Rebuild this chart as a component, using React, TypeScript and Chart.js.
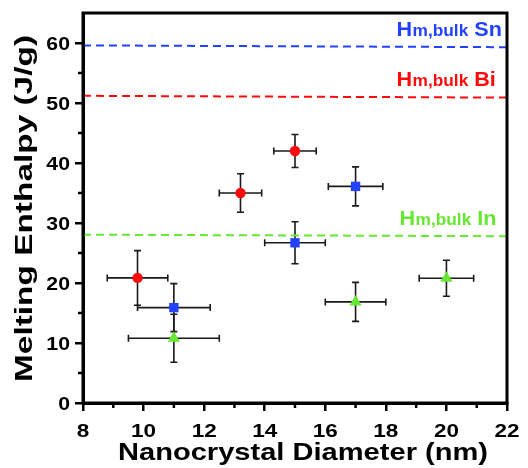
import React, { useEffect, useRef } from 'react';
import { Chart, registerables } from 'chart.js';

Chart.register(...registerables);

// ---- Data ----
const xTickValues = [8, 10, 12, 14, 16, 18, 20, 22];
const yTickValues = [0, 10, 20, 30, 40, 50, 60];
const xMinorTicks = [9, 11, 13, 15, 17, 19, 21];
const yMinorTicks = [5, 15, 25, 35, 45, 55];

const biX = [9.8, 13.2, 15.0];
const biY = [20.85, 35.0, 42.0];
const biXErr = [1.0, 0.7, 0.7];
const biYErr = [4.55, 3.2, 2.75];

const snX = [11.0, 15.0, 17.0];
const snY = [15.9, 26.7, 36.1];
const snXErr = [1.2, 1.0, 0.9];
const snYErr = [4.0, 3.5, 3.25];

const inX = [11.0, 17.0, 20.0];
const inY = [10.8, 16.85, 20.8];
const inXErr = [1.5, 1.0, 0.9];
const inYErr = [4.0, 3.25, 3.0];

const bulkX = [8, 22];
const bulkSn = [59.6, 59.3];
const bulkBi = [51.2, 50.9];
const bulkIn = [28.05, 27.8];

const labelNames = ['Sn', 'Bi', 'In'];
const labelX = [18.35, 18.35, 18.45];
const labelY = [61.2, 52.9, 29.7];

const xTitle = 'Nanocrystal Diameter (nm)';
const yTitle = 'Melting Enthalpy (J/g)';

const BLUE = '#2342ff';
const RED = '#ff0a0a';
const GREEN = '#66e832';
const FONT = '"Liberation Sans", Arial, sans-serif';

const errorSeries = [
  { x: biX, y: biY, xe: biXErr, ye: biYErr },
  { x: snX, y: snY, xe: snXErr, ye: snYErr },
  { x: inX, y: inY, xe: inXErr, ye: inYErr },
];

const errorBarPlugin = {
  id: 'errorBars',
  beforeDatasetsDraw(chart: any) {
    const { ctx, scales } = chart;
    const xs = scales.x;
    const ys = scales.y;
    ctx.save();
    ctx.strokeStyle = '#1a1a1a';
    ctx.lineWidth = 1.6;
    const cap = 3.5;
    errorSeries.forEach((s) => {
      s.x.forEach((xv, i) => {
        const px = xs.getPixelForValue(xv);
        const py = ys.getPixelForValue(s.y[i]);
        const x1 = xs.getPixelForValue(xv - s.xe[i]);
        const x2 = xs.getPixelForValue(xv + s.xe[i]);
        const y1 = ys.getPixelForValue(s.y[i] + s.ye[i]);
        const y2 = ys.getPixelForValue(s.y[i] - s.ye[i]);
        ctx.beginPath();
        ctx.moveTo(x1, py); ctx.lineTo(x2, py);
        ctx.moveTo(x1, py - cap); ctx.lineTo(x1, py + cap);
        ctx.moveTo(x2, py - cap); ctx.lineTo(x2, py + cap);
        ctx.moveTo(px, y1); ctx.lineTo(px, y2);
        ctx.moveTo(px - cap, y1); ctx.lineTo(px + cap, y1);
        ctx.moveTo(px - cap, y2); ctx.lineTo(px + cap, y2);
        ctx.stroke();
      });
    });
    ctx.restore();
  },
};

// stretched text helper (reference text is wider than plain Arial)
function stretchedText(ctx: any, text: string, x: number, y: number, sx: number, align: string) {
  ctx.save();
  ctx.translate(x, y);
  ctx.scale(sx, 1);
  ctx.textAlign = align;
  ctx.fillText(text, 0, 0);
  ctx.restore();
}

const framePlugin = {
  id: 'frame',
  afterDraw(chart: any) {
    const { ctx, chartArea, scales } = chart;
    const xs = scales.x;
    const ys = scales.y;
    ctx.save();
    ctx.strokeStyle = '#000';
    ctx.lineWidth = 3;
    ctx.strokeRect(chartArea.left, chartArea.top, chartArea.right - chartArea.left, chartArea.bottom - chartArea.top);
    ctx.lineWidth = 2.5;
    ctx.beginPath();
    xMinorTicks.forEach((v) => {
      const p = xs.getPixelForValue(v);
      ctx.moveTo(p, chartArea.bottom);
      ctx.lineTo(p, chartArea.bottom + 5);
    });
    yMinorTicks.forEach((v) => {
      const p = ys.getPixelForValue(v);
      ctx.moveTo(chartArea.left, p);
      ctx.lineTo(chartArea.left - 5, p);
    });
    ctx.stroke();

    // tick labels, from the scales' own ticks
    ctx.fillStyle = '#000';
    ctx.textBaseline = 'alphabetic';
    ctx.font = `bold 18px ${FONT}`;
    xs.ticks.forEach((t: any, i: number) => {
      const p = xs.getPixelForTick(i);
      stretchedText(ctx, String(t.value), p, chartArea.bottom + 34, 1.25, 'center');
    });
    ys.ticks.forEach((t: any, i: number) => {
      const p = ys.getPixelForTick(i);
      stretchedText(ctx, String(t.value), chartArea.left - 13, p + 6.6, 1.18, 'right');
    });

    // axis titles
    ctx.font = `bold 23px ${FONT}`;
    const xw = ctx.measureText(xTitle).width;
    stretchedText(ctx, xTitle, 303, 460, 370 / xw, 'center');
    const yw = ctx.measureText(yTitle).width;
    ctx.save();
    ctx.translate(31.5, 208.5);
    ctx.rotate(-Math.PI / 2);
    ctx.scale(347 / yw, 1);
    ctx.textAlign = 'center';
    ctx.fillText(yTitle, 0, 0);
    ctx.restore();

    // bulk labels
    const colors = [BLUE, RED, GREEN];
    labelNames.forEach((name, i) => {
      let px = xs.getPixelForValue(labelX[i]);
      const py = ys.getPixelForValue(labelY[i]);
      ctx.fillStyle = colors[i];
      ctx.textBaseline = 'alphabetic';
      ctx.textAlign = 'left';
      ctx.font = `bold 20px ${FONT}`;
      const sx = 1.08;
      stretchedText(ctx, 'H', px, py, sx, 'left');
      px += ctx.measureText('H').width * sx + 0.5;
      ctx.font = `bold 16px ${FONT}`;
      stretchedText(ctx, 'm,bulk', px, py, sx, 'left');
      px += ctx.measureText('m,bulk').width * sx;
      ctx.font = `bold 20px ${FONT}`;
      stretchedText(ctx, ' ' + name, px, py, sx, 'left');
    });
    ctx.restore();
  },
};

export default function App() {
  const ref = useRef<HTMLCanvasElement | null>(null);
  useEffect(() => {
    document.body.style.margin = '0';
    if (!ref.current) return;
    const pts = (xs: number[], ys: number[]) => xs.map((x, i) => ({ x, y: ys[i] }));
    const line = (ys: number[], color: string) => ({
      type: 'line' as const,
      data: pts(bulkX, ys),
      borderColor: color,
      borderWidth: 2,
      borderDash: [8, 5],
      pointRadius: 0,
      fill: false,
      order: 5,
    });
    const chart = new Chart(ref.current, {
      type: 'scatter',
      data: {
        datasets: [
          { data: pts(biX, biY), backgroundColor: RED, borderColor: RED, pointStyle: 'circle', pointRadius: 5.2, borderWidth: 0, order: 1 } as any,
          { data: pts(snX, snY), backgroundColor: BLUE, borderColor: BLUE, pointStyle: 'rect', pointRadius: 6.6, borderWidth: 0, order: 1 } as any,
          { data: pts(inX, inY), backgroundColor: GREEN, borderColor: GREEN, pointStyle: 'triangle', pointRadius: 7, borderWidth: 0, order: 1 } as any,
          line(bulkSn, BLUE) as any,
          line(bulkBi, RED) as any,
          line(bulkIn, GREEN) as any,
        ],
      },
      options: {
        animation: false,
        responsive: false,
        devicePixelRatio: 1,
        layout: { padding: { top: 13, right: 21, left: 0, bottom: 0 } },
        plugins: { legend: { display: false }, tooltip: { enabled: false } },
        scales: {
          x: {
            type: 'linear',
            min: 8,
            max: 22,
            afterBuildTicks: (s: any) => { s.ticks = xTickValues.map((v) => ({ value: v })); },
            afterFit: (s: any) => { s.height = 65; },
            grid: { drawOnChartArea: false, drawTicks: true, tickLength: 8, lineWidth: 2.5, color: '#000' },
            border: { display: true, width: 3, color: '#000' },
            ticks: { display: false },
            title: { display: false },
          },
          y: {
            type: 'linear',
            min: 0,
            max: 65,
            afterBuildTicks: (s: any) => { s.ticks = yTickValues.map((v) => ({ value: v })); },
            afterFit: (s: any) => { s.width = 83; },
            grid: { drawOnChartArea: false, drawTicks: true, tickLength: 8, lineWidth: 2.5, color: '#000' },
            border: { display: true, width: 3, color: '#000' },
            ticks: { display: false },
            title: { display: false },
          },
        },
      } as any,
      plugins: [errorBarPlugin, framePlugin],
    });
    return () => chart.destroy();
  }, []);
  return (
    <div style={{ width: 528, height: 468 }}>
      <canvas ref={ref} width={528} height={468} style={{ width: 528, height: 468, display: 'block' }} />
    </div>
  );
}
